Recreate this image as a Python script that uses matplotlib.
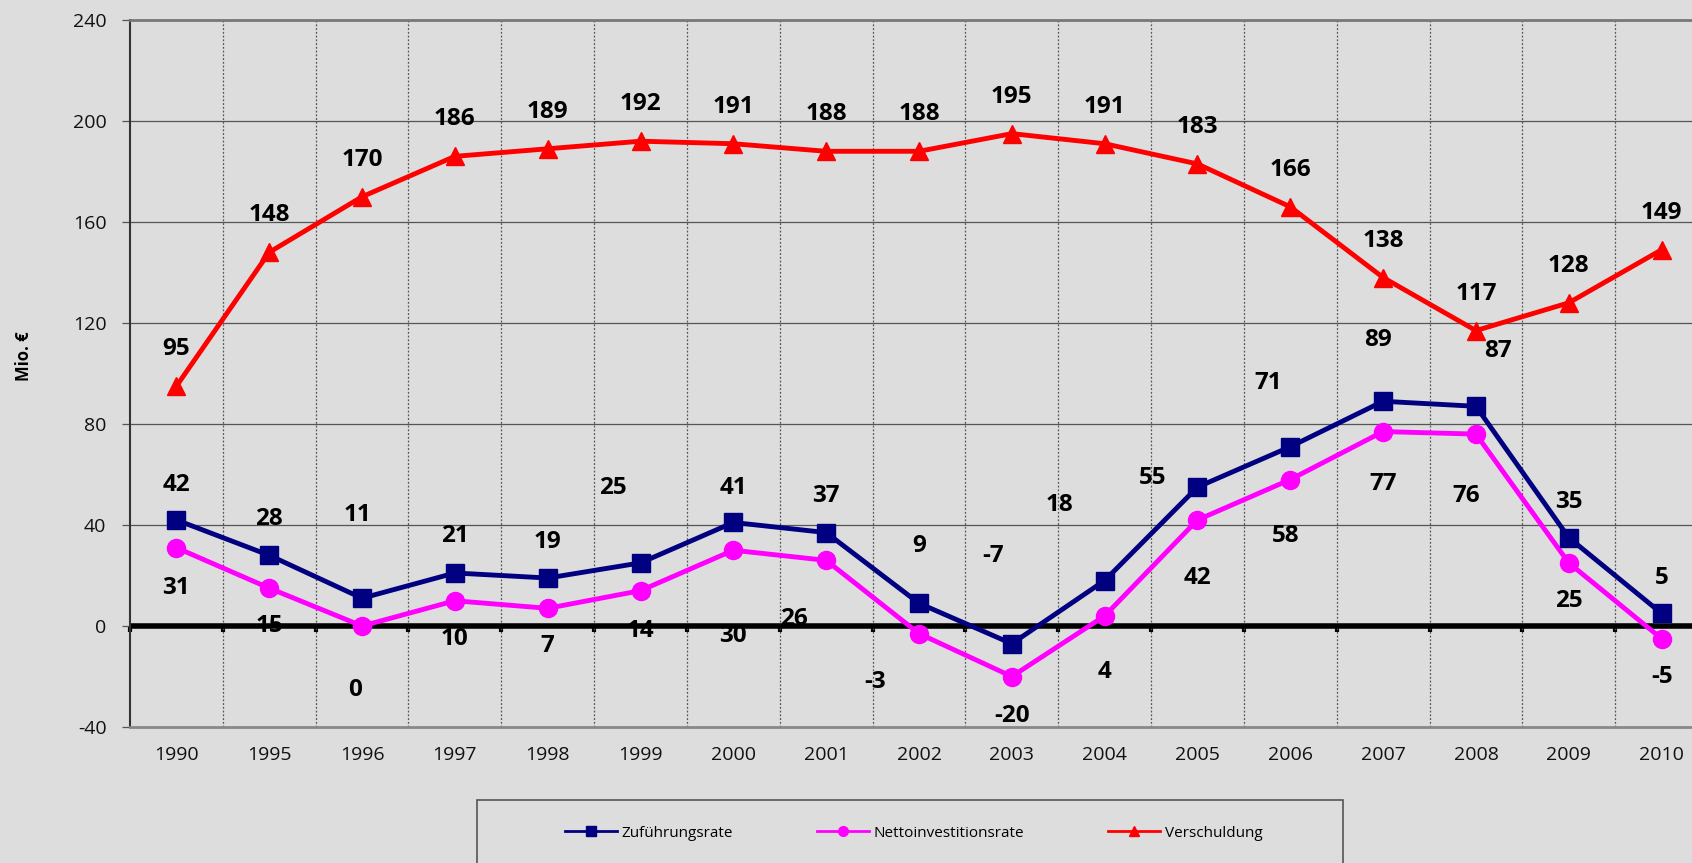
import matplotlib
matplotlib.use("Agg")
import matplotlib.pyplot as plt
from matplotlib.patches import Rectangle
import numpy as np

years = ["1990", "1995", "1996", "1997", "1998", "1999", "2000", "2001", "2002",
         "2003", "2004", "2005", "2006", "2007", "2008", "2009", "2010"]
zufuehrung = [42, 28, 11, 21, 19, 25, 41, 37, 9, -7, 18, 55, 71, 89, 87, 35, 5]
netto = [31, 15, 0, 10, 7, 14, 30, 26, -3, -20, 4, 42, 58, 77, 76, 25, -5]
verschuldung = [95, 148, 170, 186, 189, 192, 191, 188, 188, 195, 191, 183, 166, 138, 117, 128, 149]
yticks = [-40, 0, 40, 80, 120, 160, 200, 240]

# label offsets (category units / data units)
zuf_dx = [0, 0, -0.05, 0, 0, -0.3, 0, 0, 0, -0.2, -0.49, -0.48, -0.24, -0.05, 0.24, 0, 0]
zuf_dy = [14.0, 14.3, 33.0, 14.5, 14.3, 29.7, 13.7, 14.3, 22.6, 34.8, 29.9, 3.6, 25.2, 24.3, 22.0, 14.2, 14.2]
net_dx = [0, 0, -0.08, 0, 0, 0, 0, -0.35, -0.47, 0, 0, 0, -0.05, 0, -0.1, 0, 0]
net_dy = [-16, -15, -25.2, -15.1, -15.1, -16.1, -33.8, -23.4, -19.2, -15.5, -22.4, -22.8, -22.5, -20.6, -24.7, -15.2, -15.1]
ver_dy = 14.6

BG = "#DDDDDD"
plt.rcParams['font.family'] = ['Open Sans', 'DejaVu Sans']
plt.rcParams['axes.unicode_minus'] = False

fig = plt.figure(figsize=(16.92, 8.63), dpi=100, facecolor=BG)
ax = fig.add_axes([130 / 1692, 1 - 727 / 863, (1708 - 130) / 1692, (727 - 20) / 863])
ax.set_facecolor(BG)

x = np.arange(len(years))
ax.set_xlim(-0.5, len(years) - 0.5)
ax.set_ylim(-40, 240)

# grid
for yv in yticks[1:-1]:
    ax.axhline(yv, color="#555555", lw=0.9, zorder=1)
for b in np.arange(0.5, len(years) - 0.5, 1):
    ax.axvline(b, color="#555555", lw=0.9, ls=(0, (1.5, 1.5)), zorder=1)
ax.axhline(0, color="black", lw=4, zorder=2)

ax.plot(x, zufuehrung, color="#000080", lw=3.5, marker="s", ms=13, zorder=4)
ax.plot(x, netto, color="#FF00FF", lw=3.5, marker="o", ms=13, zorder=3)
ax.plot(x, verschuldung, color="#FF0000", lw=3.5, marker="^", ms=12.5, zorder=4)

lab_kw = dict(ha="center", va="center", fontsize=17.5, fontweight="bold", color="black", zorder=6)
for i in range(len(years)):
    ax.text(x[i] + zuf_dx[i], zufuehrung[i] + zuf_dy[i], str(zufuehrung[i]), **lab_kw)
    ax.text(x[i] + net_dx[i], netto[i] + net_dy[i], str(netto[i]), **lab_kw)
    ax.text(x[i], verschuldung[i] + ver_dy, str(verschuldung[i]), **lab_kw)

ax.set_xticks(x)
ax.set_xticklabels(years)
ax.tick_params(axis="x", length=0, pad=14, labelsize=14, labelcolor="#111111")
ax.set_yticks(yticks)
ax.tick_params(axis="y", length=6, width=0.9, color="#555555", pad=11, labelsize=14, labelcolor="#111111")

for s in ["top", "right"]:
    ax.spines[s].set_color("#777777")
    ax.spines[s].set_linewidth(2)
ax.spines["left"].set_color("#333333")
ax.spines["left"].set_linewidth(1.5)
ax.spines["bottom"].set_color("#888888")
ax.spines["bottom"].set_linewidth(2)

# tick marks on the zero line
sec = ax.secondary_xaxis(40 / 280)
sec.set_xticks(np.arange(-0.5, len(years), 1))
sec.set_xticklabels([])
sec.tick_params(length=4, width=3, color="black", direction="out")
sec.spines["bottom"].set_visible(False)

fig.text(24 / 1692, 1 - 356 / 863, "Mio. €", rotation=90, ha="center", va="center",
         fontsize=12, fontweight="bold")

# legend
rect = Rectangle((477 / 1692, 1 - 866 / 863), (1343 - 477) / 1692, 66 / 863,
                 transform=fig.transFigure, facecolor=BG, edgecolor="#555555", lw=1.2)
fig.patches.append(rect)
handles = [
    plt.Line2D([], [], color="#000080", lw=2, marker="s", ms=7),
    plt.Line2D([], [], color="#FF00FF", lw=2, marker="o", ms=7),
    plt.Line2D([], [], color="#FF0000", lw=2, marker="^", ms=7),
]
fig.legend(handles, ["Zuführungsrate", "Nettoinvestitionsrate", "Verschuldung"],
           loc="center", bbox_to_anchor=(914 / 1692, 1 - 833 / 863), ncol=3,
           frameon=False, fontsize=11, handlelength=3.4, handletextpad=0.3,
           columnspacing=5.5)

fig.savefig("out.png", dpi=100, facecolor=BG)
